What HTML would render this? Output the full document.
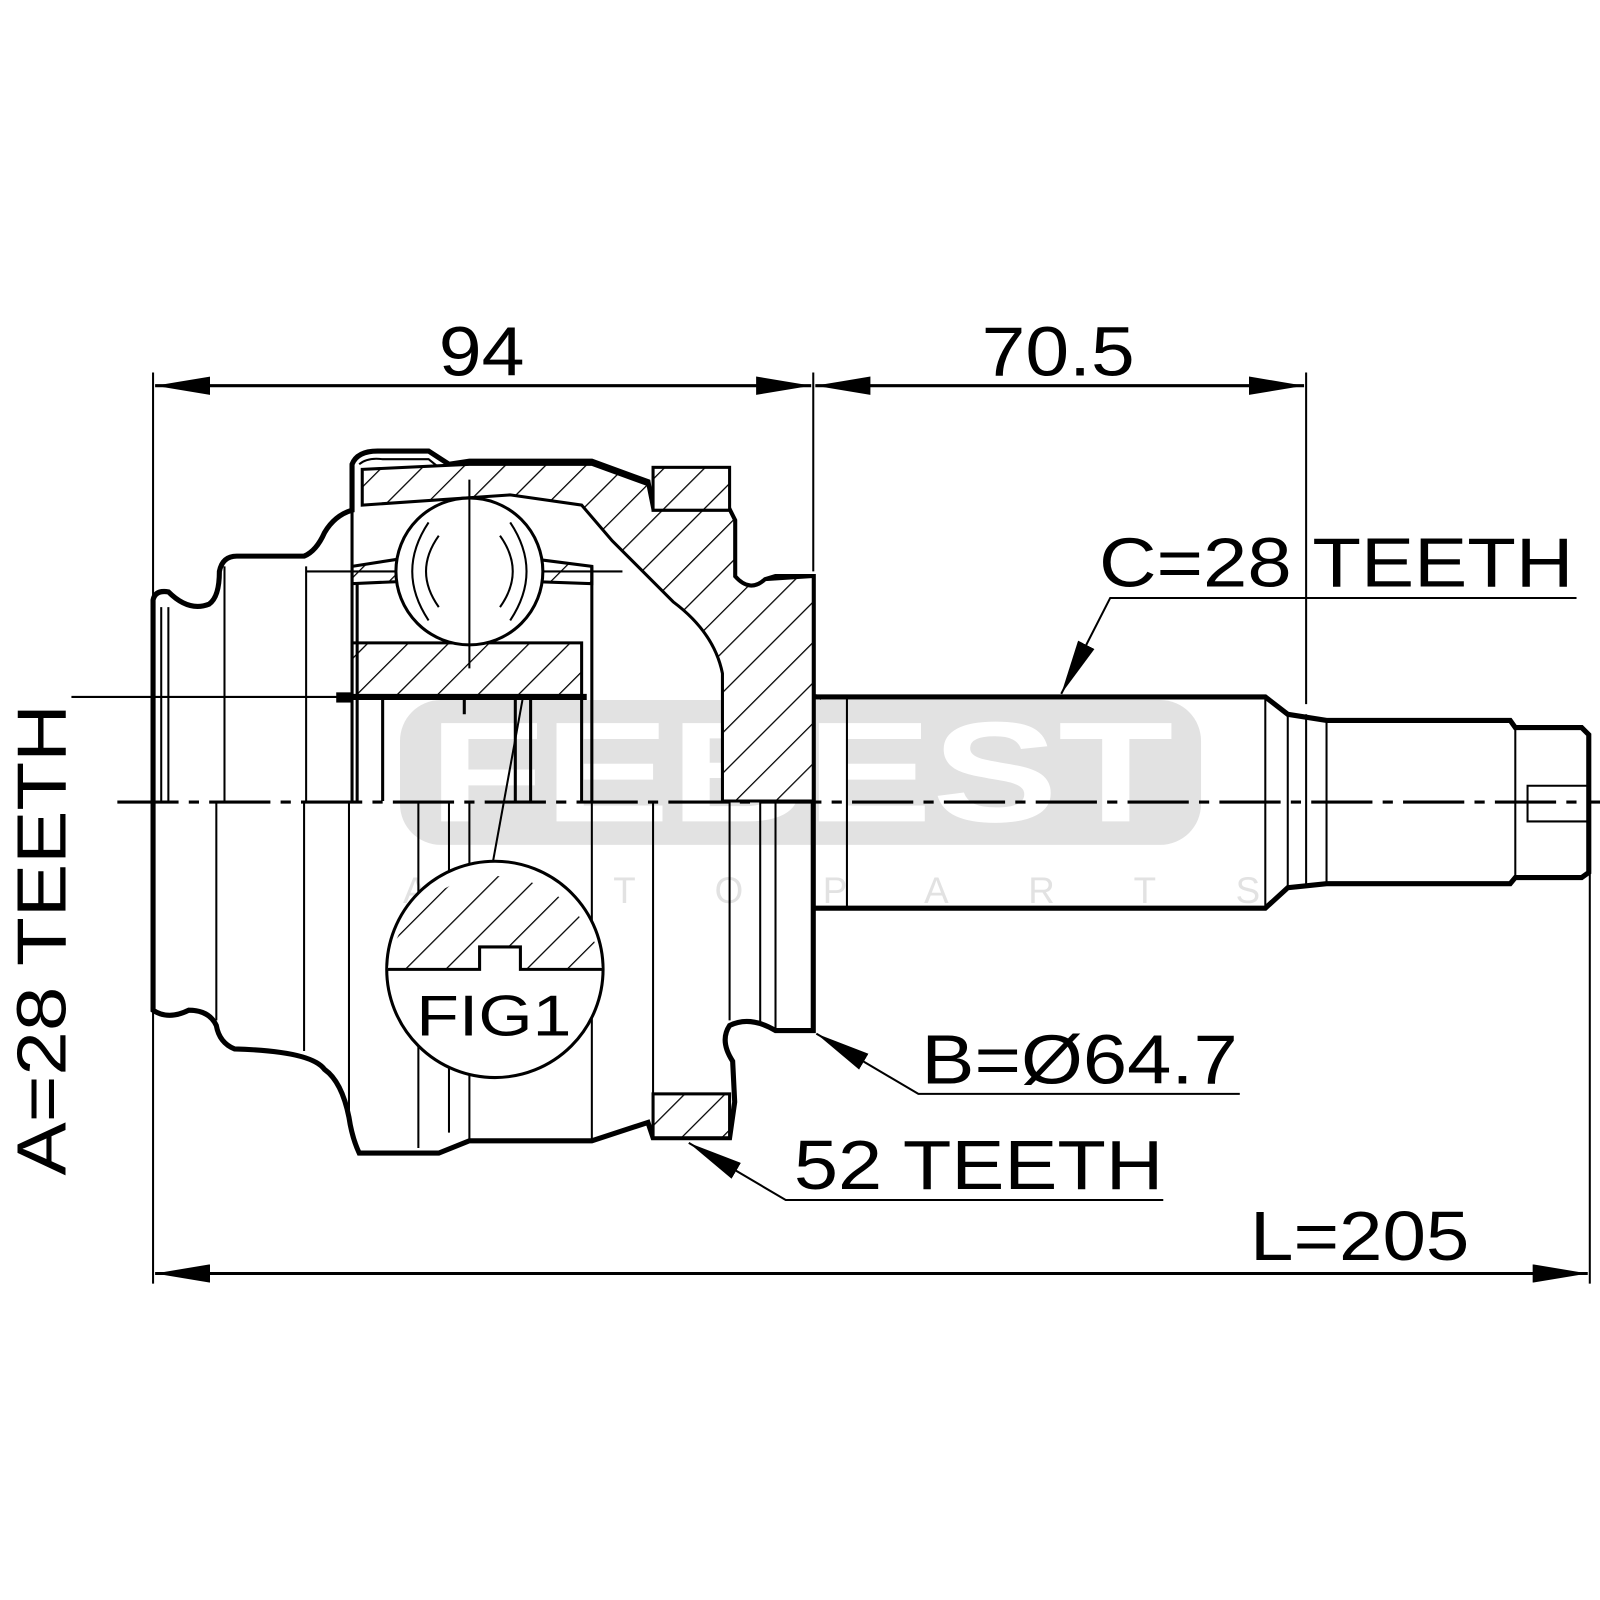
<!DOCTYPE html>
<html><head><style>html,body{margin:0;padding:0;background:#fff}svg{display:block}</style></head>
<body>
<svg width="1600" height="1600" viewBox="0 0 1568 1568" xmlns="http://www.w3.org/2000/svg" font-family="Liberation Sans, sans-serif">
<defs>
<pattern id="h" patternUnits="userSpaceOnUse" width="28" height="28" patternTransform="rotate(45)">
<rect width="28" height="28" fill="#fff"/><line x1="0" y1="0" x2="0" y2="28" stroke="#000" stroke-width="2.5"/>
</pattern>
<marker id="a" markerWidth="12" markerHeight="8" refX="12" refY="4" orient="auto-start-reverse" markerUnits="userSpaceOnUse" viewBox="0 0 12 8"><path d="M0,0 L12,4 L0,8z"/></marker>
<marker id="b" markerWidth="54" markerHeight="18" refX="54" refY="9" orient="auto-start-reverse" markerUnits="userSpaceOnUse"><path d="M0,0 L54,9 L0,18 z"/></marker>
</defs>
<!-- watermark -->
<rect x="392" y="686" width="785" height="142" rx="40" fill="#e2e2e2"/>
<text x="420" y="805" font-size="140" font-weight="bold" fill="#fff" textLength="730" lengthAdjust="spacingAndGlyphs">FEBEST</text>
<text x="395" y="885" font-size="36" fill="#e2e2e2" letter-spacing="78">AUTOPARTS</text>

<g fill="none" stroke="#000">
<!-- dimension lines -->
<line x1="150" y1="365" x2="150" y2="1258" stroke-width="2"/>
<line x1="797" y1="365" x2="797" y2="560" stroke-width="2"/>
<line x1="1280" y1="365" x2="1280" y2="690" stroke-width="2"/>
<line x1="1558" y1="720" x2="1558" y2="1258" stroke-width="2"/>
<line x1="152" y1="378" x2="795" y2="378" stroke-width="3" marker-start="url(#b)" marker-end="url(#b)"/>
<line x1="799" y1="378" x2="1278" y2="378" stroke-width="3" marker-start="url(#b)" marker-end="url(#b)"/>
<line x1="152" y1="1248" x2="1556" y2="1248" stroke-width="3" marker-start="url(#b)" marker-end="url(#b)"/>
<!-- centerline -->
<line x1="115" y1="786" x2="1568" y2="786" stroke-width="3" stroke-dasharray="60,10,10,10"/>
<!-- A leader -->
<line x1="70" y1="683" x2="345" y2="683" stroke-width="2"/>
<line x1="70" y1="683" x2="70" y2="1150" stroke-width="0" />
<rect x="330" y="679" width="14" height="9" fill="#000"/>

<!-- outer profile -->
<path stroke-width="5" d="M150,785 L150,588 Q152,578 165,580 Q185,600 205,592 Q215,585 215,560 Q218,545 232,545 L298,545 Q310,540 318,522 Q328,505 345,500 L345,455 Q350,442 370,442 L420,442 L440,455 L460,452 L580,452 L635,472 L640,500 L715,500 L720,510 L720,565 Q735,582 750,568 L760,565 L797,565 L797,1010 L760,1010 Q735,995 715,1005 Q705,1020 718,1040 L720,1080 L715,1115 L640,1115 L635,1100 L580,1118 L460,1118 L430,1130 L352,1130 Q345,1115 342,1095 Q335,1060 318,1048 Q305,1030 230,1028 Q215,1022 212,1005 Q205,990 185,990 Q165,1000 150,990 Z"/>
<!-- boot inner lines -->
<path stroke-width="2" d="M158,595 L158,785 M165,595 L165,785 M220,555 L220,785 M212,785 L212,1000 M300,555 L300,785 M298,785 L298,1030 M342,785 L342,1095"/>
<path stroke-width="2" d="M352,455 Q360,448 375,450 L420,450 L435,462"/>
<!-- upper hatched housing -->
<path stroke-width="3" fill="url(#h)" d="M355,460 L460,455 L580,455 L635,475 L640,500 L715,500 L720,510 L720,565 Q735,582 750,568 L797,565 L797,785 L708,785 L708,660 Q700,620 660,590 L600,530 L570,495 L500,485 L355,495 Z"/>
<rect x="640" y="458" width="75" height="42" fill="url(#h)" stroke-width="3"/>
<rect x="640" y="1072" width="75" height="43" fill="url(#h)" stroke-width="3"/>
<!-- inner race -->
<path stroke-width="3" fill="url(#h)" d="M345,630 L570,630 L570,683 L345,683 Z"/>
<path stroke-width="3" fill="url(#h)" d="M345,555 L390,548 L390,570 L345,572 Z M525,548 L580,555 L580,572 L525,570 Z"/>
<path stroke-width="3" d="M345,500 L345,785 M350,572 L350,785 M580,555 L580,785 M570,683 L570,785 M375,683 L375,785 M520,683 L520,785 M505,683 L505,785 M455,683 L455,700"/>
<line x1="340" y1="683" x2="575" y2="683" stroke-width="6"/>
<line x1="300" y1="560" x2="610" y2="560" stroke-width="2"/>
<!-- ball -->
<circle cx="460" cy="560" r="72" fill="#fff" stroke-width="3"/>
<line x1="460" y1="470" x2="460" y2="655" stroke-width="2"/>
<path stroke-width="2" d="M430,525 Q405,560 430,595 M420,512 Q388,560 420,608 M490,525 Q515,560 490,595 M500,512 Q532,560 500,608"/>
<!-- lower housing lines -->
<path stroke-width="2" d="M410,785 L410,1125 M440,785 L440,1110 M460,785 L460,1118 M580,785 L580,1118 M640,785 L640,1100 M715,785 L715,1000 M745,785 L745,1005 M760,785 L760,1010"/>
<!-- FIG1 leader -->
<line x1="512" y1="686" x2="483" y2="845" stroke-width="2"/>
<!-- FIG1 circle -->
<circle cx="485" cy="950" r="106" fill="#fff" stroke-width="3"/>
<path fill="url(#h)" stroke="none" d="M380,950 A106,106 0 0 1 590,950 L510,950 L510,928 L470,928 L470,950 Z"/>
<path stroke-width="3" d="M380,950 L470,950 L470,928 L510,928 L510,950 L590,950"/>
<!-- shaft -->
<path stroke-width="5" d="M797,683 L1240,683 L1262,700 L1300,706 L1480,706 L1485,713 L1550,713 L1557,720 L1557,855 L1550,860 L1485,860 L1480,866 L1300,866 L1262,870 L1240,890 L797,890"/>
<path stroke-width="2" d="M830,683 L830,890 M1240,683 L1240,890 M1262,700 L1262,870 M1280,700 L1280,870 M1300,706 L1300,866 M1485,713 L1485,860 M1497,770 L1557,770 L1557,805 L1497,805 Z"/>
<path stroke-width="3" d="M797,683 Q800,680 805,685"/>
<!-- leaders -->
<path stroke-width="2" d="M1545,586 L1088,586 L1040,680" marker-end="url(#b)"/>
<path stroke-width="2" d="M1215,1072 L900,1072 L800,1013" marker-end="url(#b)"/>
<path stroke-width="2" d="M1140,1176 L770,1176 L675,1120" marker-end="url(#b)"/>
</g>
<line x1="70" y1="683" x2="70" y2="683" stroke="#000"/>
<g fill="#000" font-size="68">
<text x="430" y="368" textLength="84" lengthAdjust="spacingAndGlyphs">94</text>
<text x="962" y="368" textLength="150" lengthAdjust="spacingAndGlyphs">70.5</text>
<text x="1077" y="575" textLength="465" lengthAdjust="spacingAndGlyphs">C=28 TEETH</text>
<text x="903" y="1062" textLength="310" lengthAdjust="spacingAndGlyphs">B=Ø64.7</text>
<text x="778" y="1165" textLength="362" lengthAdjust="spacingAndGlyphs">52 TEETH</text>
<text x="1225" y="1235" textLength="215" lengthAdjust="spacingAndGlyphs">L=205</text>
<text x="408" y="1015" font-size="56" textLength="152" lengthAdjust="spacingAndGlyphs">FIG1</text>
<text transform="translate(64,1152) rotate(-90)" textLength="462" lengthAdjust="spacingAndGlyphs">A=28 TEETH</text>
</g>
</svg>
</body></html>
